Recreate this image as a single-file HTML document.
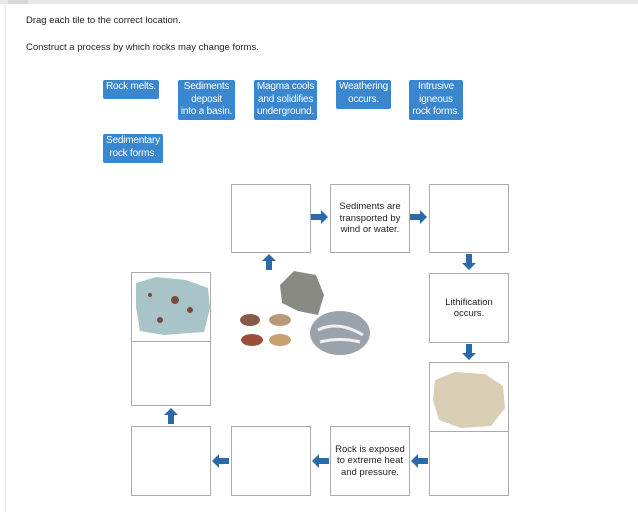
<!DOCTYPE html>
<html><head><style>
body{margin:0;width:638px;height:512px;background:#fff;position:relative;overflow:hidden;font-family:"Liberation Sans",sans-serif}
.a{position:absolute}
.t{position:absolute;background:#3a87d0;color:#fff;font-size:10px;line-height:12.5px;text-align:center;border-radius:2px;padding:1px 0;white-space:nowrap;letter-spacing:-0.2px}
.b{position:absolute;border:1px solid #aaa;background:#fff;box-sizing:border-box;font-size:9.5px;color:#222;display:flex;align-items:center;justify-content:center;text-align:center;line-height:11.5px;white-space:nowrap}
</style></head><body>
<div class="a" style="left:0;top:0;width:638px;height:4px;background:#e8e8e8"></div>
<div class="a" style="left:8px;top:0;width:20px;height:4px;background:#d8d8d8"></div>
<div class="a" style="left:5px;top:4px;width:1px;height:508px;background:#eee"></div>
<div class="a" style="left:26px;top:15px;font-size:9.5px;color:#222">Drag each tile to the correct location.</div>
<div class="a" style="left:26px;top:42px;font-size:9.5px;color:#222">Construct a process by which rocks may change forms.</div>
<div class="t" style="left:103px;top:80px;width:56px;height:17px">Rock melts.</div>
<div class="t" style="left:178px;top:80px;width:57px;height:38px">Sediments<br>deposit<br>into a basin.</div>
<div class="t" style="left:254px;top:80px;width:63px;height:38px">Magma cools<br>and solidifies<br>underground.</div>
<div class="t" style="left:336px;top:80px;width:55px;height:27px">Weathering<br>occurs.</div>
<div class="t" style="left:409px;top:80px;width:54px;height:38px">Intrusive<br>igneous<br>rock forms.</div>
<div class="t" style="left:103px;top:134px;width:60px;height:27px">Sedimentary<br>rock forms.</div>

<div class="b" style="left:231px;top:184px;width:80px;height:69px"></div>
<div class="b" style="left:330px;top:184px;width:80px;height:69px">Sediments are<br>transported by<br>wind or water.</div>
<div class="b" style="left:429px;top:184px;width:80px;height:69px"></div>
<div class="b" style="left:429px;top:273px;width:80px;height:70px">Lithification<br>occurs.</div>
<div class="b" style="left:429px;top:362px;width:80px;height:70px"></div>
<div class="b" style="left:429px;top:431px;width:80px;height:65px"></div>
<div class="b" style="left:131px;top:426px;width:80px;height:70px"></div>
<div class="b" style="left:231px;top:426px;width:80px;height:70px"></div>
<div class="b" style="left:330px;top:426px;width:80px;height:70px">Rock is exposed<br>to extreme heat<br>and pressure.</div>
<div class="b" style="left:131px;top:272px;width:80px;height:70px"></div>
<div class="b" style="left:131px;top:341px;width:80px;height:65px"></div>

<svg class="a" style="left:0;top:0" width="638" height="512">
<g fill="#2b6aa8">
<path d="M311 214h10v-4l7 7-7 7v-4h-10z"/>
<path d="M410 214h10v-4l7 7-7 7v-4h-10z"/>
<path d="M466 254h6v9h4l-7 7-7-7h4z"/>
<path d="M466 344h6v9h4l-7 7-7-7h4z"/>
<path d="M428 458h-10v-4l-7 7 7 7v-4h10z"/>
<path d="M329 458h-10v-4l-7 7 7 7v-4h10z"/>
<path d="M229 458h-10v-4l-7 7 7 7v-4h10z"/>
<path d="M266 270v-9h-4l7-7 7 7h-4v9z"/>
<path d="M168 424v-9h-4l7-7 7 7h-4v9z"/>
</g>
<path d="M136 283l20-6 30 3 22 8 2 20-6 24-40 3-24-4-4-24z" fill="#a9c4c8"/>
<g fill="#7a4a40"><circle cx="175" cy="300" r="4"/><circle cx="190" cy="310" r="3"/><circle cx="160" cy="320" r="3"/><circle cx="150" cy="295" r="2"/></g>
<path d="M435 380l20-8 30 2 18 12 2 22-14 18-30 2-22-8-6-20z" fill="#d9cdb4"/>
<path d="M280 285l14-14 22 4 8 20-6 20-20-4-16-8z" fill="#8a8a85"/>
<ellipse cx="340" cy="333" rx="30" ry="22" fill="#9aa3ab"/>
<path d="M318 330q20-10 45 5M320 342q20-5 40 0" stroke="#eee" stroke-width="3" fill="none"/>
<ellipse cx="250" cy="320" rx="10" ry="6" fill="#8a5a48"/>
<ellipse cx="280" cy="320" rx="11" ry="6" fill="#b89a78"/>
<ellipse cx="252" cy="340" rx="11" ry="6" fill="#9a5038"/>
<ellipse cx="280" cy="340" rx="11" ry="6" fill="#c8a070"/>
</svg>
</body></html>
